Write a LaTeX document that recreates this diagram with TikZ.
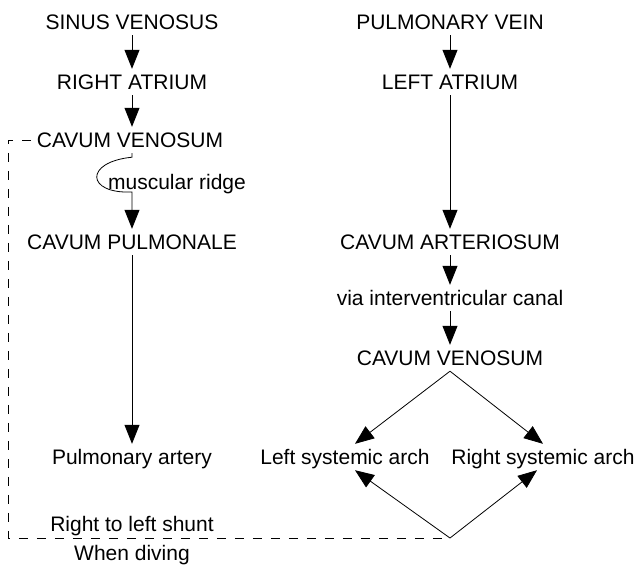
\documentclass[tikz,border=0pt]{standalone}
\usepackage{fontspec}
\setsansfont{Liberation Sans}
\usetikzlibrary{arrows.meta}

\begin{document}
\begin{tikzpicture}[x=1pt,y=-1pt,font=\sffamily\fontsize{21}{25}\selectfont,
  lbl/.style={text height=15pt,text depth=0pt,inner sep=5.5pt},
  flow/.style={-{Triangle[length=19pt,width=15pt]},line width=0.8pt},
  shunt/.style={dash pattern=on 9pt off 9pt,line width=0.8pt}]
\useasboundingbox (0,0) rectangle (639,566);
% left side
\node[lbl] (sv) at (132,22) {SINUS VENOSUS};
\node[lbl] (ra) at (132,82) {RIGHT ATRIUM};
\node[lbl] (cvl) at (130,140) {CAVUM VENOSUM};
\node[lbl] (mr) at (177,182) {muscular ridge};
\node[lbl] (cp) at (132,242) {CAVUM PULMONALE};
\node[lbl] (pa) at (132,457) {Pulmonary artery};
\node[lbl] (rls) at (132,524) {Right to left shunt};
\node[lbl] (wd) at (132,553) {When diving};
% right side
\node[lbl] (pv) at (450,22) {PULMONARY VEIN};
\node[lbl] (la) at (450,82) {LEFT ATRIUM};
\node[lbl] (ca) at (450,242) {CAVUM ARTERIOSUM};
\node[lbl] (vic) at (450,298) {via interventricular canal};
\node[lbl] (cvr) at (450,358) {CAVUM VENOSUM};
\node[lbl] (lsa) at (345,457) {Left systemic arch};
\node[lbl] (rsa) at (543,457) {Right systemic arch};
\coordinate (dv) at (450,538);
\coordinate (sc) at (8,538);

\draw[flow] (sv) -- (ra);
\draw[flow] (ra.south) -- (ra.south |- cvl.north);
\draw[flow] (ra.south |- cvl.south) -- ++(0,4)
  .. controls (84,162) and (86,194) .. (132,192) -- (cp.north);
\draw[flow] (cp) -- (pa);

\draw[flow] (pv) -- (la);
\draw[flow] (la) -- (ca);
\draw[flow] (ca) -- (vic);
\draw[flow] (vic) -- (cvr);
\draw[flow] (cvr.south) -- ([xshift=10pt]lsa.north);
\draw[flow] (cvr.south) -- (rsa.north);
\draw[flow] (dv) -- ([xshift=10pt]lsa.south);
\draw[flow] (dv) -- ([xshift=-6pt]rsa.south);

% shunt when diving
\draw[shunt] (cvl.west) -- (cvl.west -| sc) -- (sc) -- (dv);
\end{tikzpicture}
\end{document}
